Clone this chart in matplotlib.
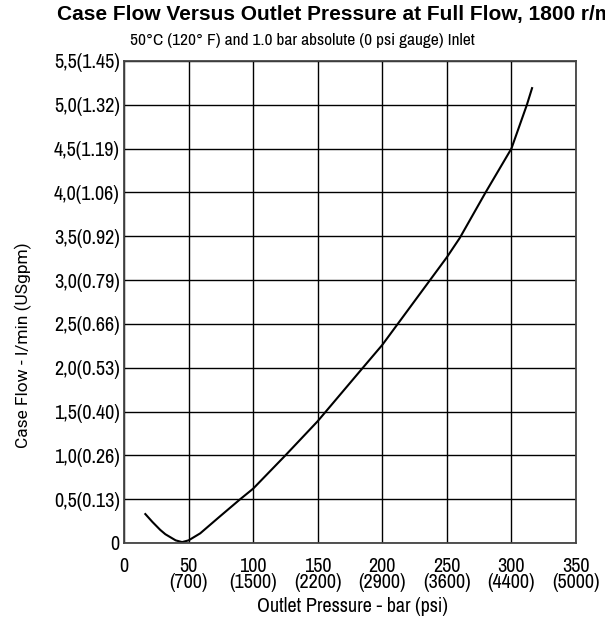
import matplotlib
matplotlib.use("Agg")
import matplotlib.pyplot as plt

# narrow face for ticks and labels, fall back to DejaVu
cond = ['Archivo Narrow', 'Roboto Condensed', 'DejaVu Sans']

pressure = [16.5, 22, 28, 32, 36, 40, 45, 50, 59, 74, 90, 100, 125, 150, 185, 200, 212, 237, 250, 260, 280, 300, 312, 316]
flow = [0.33, 0.24, 0.15, 0.10, 0.065, 0.03, 0.01, 0.03, 0.11, 0.30, 0.50, 0.62, 1.00, 1.39, 2.00, 2.26, 2.50, 3.00, 3.26, 3.48, 4.00, 4.50, 5.00, 5.19]

x_ticks = [0, 50, 100, 150, 200, 250, 300, 350]
x_labels = ['0', '50\n(700)', '100\n(1500)', '150\n(2200)', '200\n(2900)',
            '250\n(3600)', '300\n(4400)', '350\n(5000)']
y_ticks = [0, 0.5, 1.0, 1.5, 2.0, 2.5, 3.0, 3.5, 4.0, 4.5, 5.0, 5.5]
y_labels = ['0', '0,5(0.13)', '1,0(0.26)', '1,5(0.40)', '2,0(0.53)', '2,5(0.66)',
            '3,0(0.79)', '3,5(0.92)', '4,0(1.06)', '4,5(1.19)', '5,0(1.32)', '5,5(1.45)']

fig = plt.figure(figsize=(6.05, 6.19), dpi=100)
ax = fig.add_axes([0.205, 0.1228, 0.747, 0.7787])

ax.plot(pressure, flow, color='black', lw=1.5)

ax.set_xlim(0, 350)
ax.set_ylim(0, 5.5)
ax.set_xticks(x_ticks)
ax.set_xticklabels(x_labels, fontsize=14.5, family=cond, linespacing=0.8)
ax.set_yticks(y_ticks)
ax.set_yticklabels(y_labels, fontsize=14.5, family=cond)
ax.tick_params(length=0)
ax.tick_params(axis='x', pad=10)
ax.tick_params(axis='y', pad=3)
ax.grid(True, color='black', lw=1)
for s in ax.spines.values():
    s.set_color('#444444')
    s.set_linewidth(1.3)

fig.text(352 / 605, 1 - 607 / 619, 'Outlet Pressure - bar (psi)', fontsize=14.5, family=cond,
         va='center', ha='center')
fig.text(23 / 605, 1 - 345 / 619, 'Case Flow - l/min (USgpm)', fontsize=12.5,
         family=['Roboto', 'DejaVu Sans'], rotation=90, va='center', ha='center')

fig.text(0.094, 0.977, 'Case Flow Versus Outlet Pressure at Full Flow, 1800 r/min',
         fontsize=15, fontweight='bold', family='Liberation Sans', va='center', ha='left')
fig.text(0.5, 0.935, '50°C (120° F) and 1.0 bar absolute (0 psi gauge) Inlet',
         fontsize=12.5, family=cond, va='center', ha='center')

fig.savefig('out.png', dpi=100)
